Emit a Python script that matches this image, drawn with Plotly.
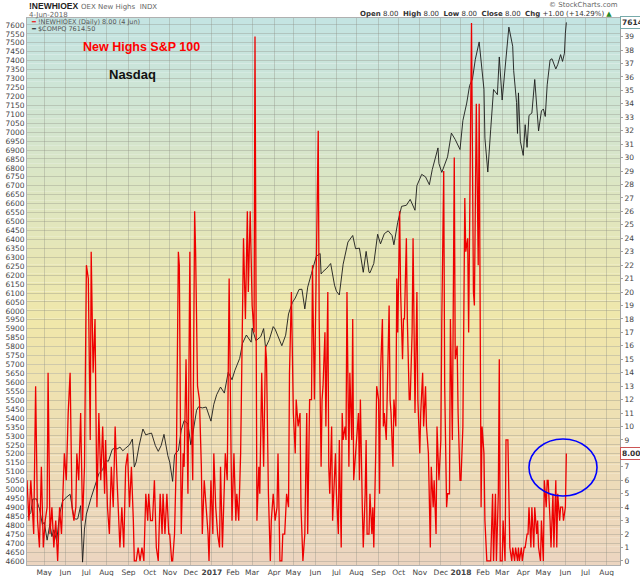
import numpy as np
import pandas as pd
import plotly.graph_objects as go

# $COMPQ closes
nasdaq_dates = [
    "2016-04-07", "2016-04-12", "2016-04-14", "2016-04-20", "2016-04-22", "2016-04-25", "2016-04-28",
    "2016-05-02", "2016-05-05", "2016-05-10", "2016-05-12", "2016-05-16", "2016-05-19", "2016-05-24",
    "2016-05-27", "2016-06-01", "2016-06-08", "2016-06-10", "2016-06-14", "2016-06-16", "2016-06-20",
    "2016-06-23", "2016-06-24", "2016-06-27", "2016-06-29", "2016-07-01", "2016-07-08", "2016-07-13",
    "2016-07-15", "2016-07-20", "2016-07-26", "2016-07-29", "2016-08-03", "2016-08-09", "2016-08-12",
    "2016-08-16", "2016-08-19", "2016-08-24", "2016-08-29", "2016-09-02", "2016-09-07", "2016-09-09",
    "2016-09-13", "2016-09-16", "2016-09-22", "2016-09-27", "2016-09-30", "2016-10-05", "2016-10-11",
    "2016-10-14", "2016-10-19", "2016-10-24", "2016-10-28", "2016-11-01", "2016-11-04", "2016-11-08",
    "2016-11-10", "2016-11-14", "2016-11-17", "2016-11-22", "2016-11-28", "2016-12-01", "2016-12-05",
    "2016-12-09", "2016-12-13", "2016-12-19", "2016-12-23", "2016-12-30",
    "2017-01-04", "2017-01-09", "2017-01-13", "2017-01-19", "2017-01-25", "2017-01-31", "2017-02-03",
    "2017-02-10", "2017-02-15", "2017-02-21", "2017-02-28", "2017-03-01", "2017-03-07", "2017-03-14",
    "2017-03-17", "2017-03-21", "2017-03-27", "2017-03-31", "2017-04-04", "2017-04-13", "2017-04-19",
    "2017-04-24", "2017-04-28", "2017-05-03", "2017-05-09", "2017-05-12", "2017-05-17", "2017-05-22",
    "2017-05-26", "2017-06-02", "2017-06-08", "2017-06-09", "2017-06-13", "2017-06-19", "2017-06-23",
    "2017-06-29", "2017-07-03", "2017-07-06", "2017-07-12", "2017-07-19", "2017-07-26", "2017-07-31",
    "2017-08-04", "2017-08-10", "2017-08-15", "2017-08-18", "2017-08-21", "2017-08-25", "2017-08-31",
    "2017-09-05", "2017-09-11", "2017-09-15", "2017-09-21", "2017-09-25", "2017-09-29", "2017-10-05",
    "2017-10-12", "2017-10-18", "2017-10-25", "2017-10-27", "2017-11-03", "2017-11-09", "2017-11-15",
    "2017-11-20", "2017-11-28", "2017-11-29", "2017-12-04", "2017-12-08", "2017-12-12", "2017-12-18",
    "2017-12-22", "2017-12-29",
    "2018-01-03", "2018-01-09", "2018-01-12", "2018-01-17", "2018-01-22", "2018-01-26", "2018-01-30",
    "2018-02-02", "2018-02-05", "2018-02-08", "2018-02-13", "2018-02-16", "2018-02-22", "2018-02-26",
    "2018-03-01", "2018-03-06", "2018-03-09", "2018-03-12", "2018-03-16", "2018-03-19", "2018-03-22",
    "2018-03-23", "2018-03-26", "2018-03-28", "2018-04-02", "2018-04-04", "2018-04-06", "2018-04-10",
    "2018-04-13", "2018-04-18", "2018-04-24", "2018-04-27", "2018-05-01", "2018-05-03", "2018-05-07",
    "2018-05-10", "2018-05-14", "2018-05-18", "2018-05-22", "2018-05-25", "2018-05-29", "2018-05-31",
    "2018-06-01", "2018-06-04",
]
nasdaq_close = [
    4848, 4872, 4947, 4948, 4906, 4895, 4805,
    4817, 4717, 4809, 4737, 4775, 4712, 4861,
    4933, 4952, 4974, 4895, 4844, 4834, 4837,
    4910, 4708, 4594, 4779, 4863, 4956, 5005,
    5030, 5089, 5111, 5162, 5159, 5225, 5233,
    5227, 5238, 5217, 5232, 5250, 5283, 5126,
    5155, 5245, 5339, 5306, 5312, 5316, 5246,
    5214, 5246, 5309, 5190, 5153, 5046, 5193,
    5209, 5218, 5333, 5386, 5368, 5251, 5309,
    5444, 5463, 5457, 5462, 5383,
    5477, 5531, 5574, 5540, 5656, 5615, 5667,
    5734, 5819, 5865, 5825, 5904, 5833, 5856,
    5901, 5794, 5840, 5912, 5898, 5805, 5864,
    5983, 6047, 6072, 6120, 6121, 6011, 6133,
    6210, 6306, 6321, 6207, 6220, 6239, 6265,
    6144, 6110, 6089, 6261, 6385, 6422, 6348,
    6351, 6216, 6333, 6216, 6213, 6265, 6429,
    6375, 6432, 6448, 6422, 6370, 6496, 6585,
    6591, 6624, 6563, 6701, 6764, 6750, 6706,
    6790, 6912, 6824, 6775, 6840, 6862, 6995,
    6959, 6903,
    7065, 7163, 7261, 7298, 7408, 7505, 7402,
    7240, 6967, 6777, 7013, 7239, 7210, 7421,
    7180, 7372, 7560, 7588, 7481, 7345, 7166,
    6993, 7220, 6949, 6870, 7042, 6915, 7094,
    7107, 7295, 7007, 7119, 7130, 7088, 7265,
    7404, 7411, 7354, 7378, 7434, 7396, 7442,
    7554, 7614.5,
]

# !NEWHIOEX daily readings (about every other session), in five stretches
newhi_a = [6, 3, 6, 3, 2, 13, 3, 1, 7, 1, 3, 4, 14, 2, 4, 1, 3, 0, 4, 2, 4, 8, 6, 11, 14, 4, 3,
           4, 8, 6, 11, 3, 7, 22, 21, 9, 23, 14, 18, 4, 11, 6, 10, 5, 9, 4, 2, 7, 4, 10, 6, 2, 1,
           4, 1, 7, 8, 4, 7, 3, 0, 0, 1, 0, 1, 0, 5, 3, 5, 3, 3, 6, 1, 0, 5, 2, 5, 2, 5, 2]
newhi_b = [2, 0, 0, 2, 8, 23, 22, 2, 8, 7, 15, 5, 23, 13, 6, 26, 23, 13, 12, 7, 2, 6, 4, 2, 0,
           6, 2, 8, 4, 2, 1, 7, 1, 6, 8, 6, 21, 8, 3, 8, 3, 5, 3, 8, 21, 24, 18, 26, 20, 26, 19,
           17, 39, 3, 7, 5, 14, 7, 16, 15, 5, 0, 3, 5, 3, 4, 8, 0, 0, 2, 2, 5, 4, 14, 20, 11, 8,
           12, 10, 11, 4, 0, 2, 11, 2, 12, 12, 22, 12, 23, 32, 18, 7]
newhi_c = [12, 13, 17, 10, 20, 7, 5, 10, 3, 7, 8, 5, 2, 9, 1, 11, 9, 10, 9, 20, 7, 14, 9, 18, 6,
           8, 9, 11, 6, 12, 4, 1, 5, 9, 2, 2, 5, 2, 4, 1, 8, 13, 12, 5, 14, 18, 10, 11, 9, 13, 19,
           12, 11, 7, 12, 10, 21, 17, 26, 20, 15, 18]
newhi_d = [18, 24, 18, 12, 12, 17, 24, 11, 20, 12, 8, 11, 14, 10, 13, 10, 8, 1, 7, 4, 6, 2, 10,
           6, 9, 18, 29, 13, 4, 5, 5, 18, 9, 30, 15, 16, 11, 6, 6, 10, 27, 23, 24, 17, 30, 40, 20,
           19, 34, 22, 34, 4, 10, 8, 3, 0]
newhi_e = [0, 0, 5, 0, 5, 0, 5, 15, 0, 0, 3, 0, 9, 9, 5, 1, 0, 1, 0, 1, 0, 1, 0, 1, 0, 1, 1, 2,
           2, 4, 1, 4, 1, 4, 2, 3, 1, 0, 3, 0, 6, 4, 6, 6, 3, 1, 5, 1, 6, 1, 5, 3, 4, 4, 3, 4, 8]
newhi_spans = [
    ("2016-04-06", "2016-10-31", newhi_a),
    ("2016-11-01", "2017-06-09", newhi_b),
    ("2017-06-12", "2017-10-09", newhi_c),
    ("2017-10-10", "2018-02-07", newhi_d),
    ("2018-02-12", "2018-06-04", newhi_e),
]

month_labels = ["May", "Jun", "Jul", "Aug", "Sep", "Oct", "Nov", "Dec",
                "<b>2017</b>", "Feb", "Mar", "Apr", "May", "Jun", "Jul", "Aug", "Sep", "Oct", "Nov", "Dec",
                "<b>2018</b>", "Feb", "Mar", "Apr", "May", "Jun", "Jul", "Aug"]
right_ticks = list(range(40))

FONT = "DejaVu Sans"
GRID = "rgba(140,140,130,0.35)"


def spread_dates(start, end, n):
    days = pd.bdate_range(start, end)
    idx = np.linspace(0, len(days) - 1, n).round().astype(int)
    return list(days[idx])


newhi_x, newhi_y = [], []
for start, end, vals in newhi_spans:
    newhi_x += spread_dates(start, end, len(vals))
    newhi_y += vals

month_ticks = pd.date_range("2016-05-01", "2018-08-31", freq="BMS")

fig = go.Figure()

fig.add_trace(go.Scatter(x=pd.to_datetime(nasdaq_dates), y=nasdaq_close, mode="lines",
                         line=dict(color="#1a1a1a", width=0.9), yaxis="y"))
fig.add_trace(go.Scatter(x=newhi_x, y=newhi_y, mode="lines",
                         line=dict(color="#ee0000", width=1.3), yaxis="y2"))

# vertical teal -> yellow -> peach background
stops = [(0.0, (236, 213, 192)), (0.45, (240, 231, 170)), (1.0, (195, 228, 227))]


def bg(t):
    for (t0, c0), (t1, c1) in zip(stops[:-1], stops[1:]):
        if t <= t1:
            f = (t - t0) / (t1 - t0)
            return "rgb(%d,%d,%d)" % tuple(round(a + (b - a) * f) for a, b in zip(c0, c1))
    return "rgb(%d,%d,%d)" % stops[-1][1]


n_bands = 60
for i in range(n_bands):
    fig.add_shape(type="rect", xref="x domain", yref="y domain", x0=0, x1=1,
                  y0=i / n_bands, y1=(i + 1) / n_bands, fillcolor=bg((i + 0.5) / n_bands),
                  line_width=0, layer="below")

fig.add_shape(type="circle", xref="x", yref="y2", x0="2018-04-10", x1="2018-07-18",
              y0=4.83, y1=9.07, line=dict(color="#0000ff", width=1.6))

fig.update_layout(
    width=640, height=576,
    margin=dict(l=27, r=20, t=18, b=11, autoexpand=False),
    paper_bgcolor="white", plot_bgcolor="rgba(0,0,0,0)",
    showlegend=False,
    font=dict(family=FONT, size=8, color="#444"),
    xaxis=dict(range=["2016-04-06", "2018-08-21"], tickvals=month_ticks, ticktext=month_labels,
               tickangle=0, automargin=False,
               showgrid=True, gridcolor=GRID, gridwidth=1, ticks="", showline=True,
               linecolor="#b0b0b0", mirror=True, tickfont=dict(size=7.5, color="#444"),
               rangebreaks=[dict(bounds=["sat", "mon"])], zeroline=False),
    yaxis=dict(range=[4578, 7639], dtick=50, tick0=4600, showgrid=True, gridcolor=GRID,
               gridwidth=1, zeroline=False, showline=True, linecolor="#b0b0b0", ticks="",
               automargin=False, tickfont=dict(size=7.5, color="#444")),
    yaxis2=dict(range=[-0.3, 40.38], overlaying="y", side="right", tickvals=right_ticks,
                ticktext=["" if v == 8 else str(v) for v in right_ticks],
                showgrid=False, zeroline=False, showline=True, linecolor="#a0a0a0",
                ticks="outside", ticklen=2, tickcolor="#a0a0a0", automargin=False,
                tickfont=dict(size=7.5, color="#444")),
)

ann = [
    dict(text="<b>!NEWHIOEX</b>", x=0, y=1.022,
         font=dict(family="Liberation Sans", size=8.5, color="#222")),
    dict(text="OEX New Highs  INDX", x=0.087, y=1.021, font=dict(size=7, color="#666")),
    dict(text="4-Jun-2018", x=0, y=1.006, font=dict(size=7, color="#666")),
    dict(text="<span style='color:#ee0000'>━</span> !NEWHIOEX (Daily) 8.00 (4 Jun)",
         x=0.004, y=0.9935, font=dict(size=6.5, color="#555")),
    dict(text="<span style='color:#222'>━</span> $COMPQ 7614.50",
         x=0.004, y=0.9795, font=dict(size=6.5, color="#555")),
    dict(text="<b>New Highs S&amp;P 100</b>", x=0.091, y=0.947,
         font=dict(family="Liberation Sans", size=12.5, color="#ff0000")),
    dict(text="<b>Nasdaq</b>", x=0.135, y=0.896,
         font=dict(family="Liberation Sans", size=13, color="#111")),
]
for a in ann:
    fig.add_annotation(xref="paper", yref="paper", xanchor="left", yanchor="middle",
                       showarrow=False, **a)

fig.add_annotation(xref="paper", yref="paper", x=1.0, y=1.024, xanchor="right", yanchor="middle",
                   showarrow=False, text="© StockCharts.com", font=dict(size=7, color="#666"))
fig.add_annotation(xref="paper", yref="paper", x=0.99, y=1.007, xanchor="right", yanchor="middle",
                   showarrow=False, font=dict(size=7, color="#333"),
                   text="<b>Open</b> 8.00  <b>High</b> 8.00  <b>Low</b> 8.00  <b>Close</b> 8.00  "
                        "<b>Chg</b> +1.00 (+14.29%) <span style='color:#2a8a2a'>▲</span>")

# last-value tags on the right axis
fig.add_annotation(xref="paper", yref="y", x=1.0, y=nasdaq_close[-1], xanchor="left",
                   yanchor="middle", showarrow=False, text="<b>7614.5</b>",
                   font=dict(size=7.5, color="#333"), bgcolor="white", bordercolor="#7aa",
                   borderwidth=1, borderpad=1)
fig.add_annotation(xref="paper", yref="y2", x=1.0, y=newhi_y[-1], xanchor="left",
                   yanchor="middle", showarrow=False, text="<b>8.00</b>",
                   font=dict(size=7.5, color="#333"), bgcolor="white", bordercolor="#c55",
                   borderwidth=1, borderpad=1)

# the page's default body margin would push the 640x576 figure off-screen
fig.write_html("out.html", config={"displayModeBar": False},
               post_script="document.body.style.margin = '0';")
